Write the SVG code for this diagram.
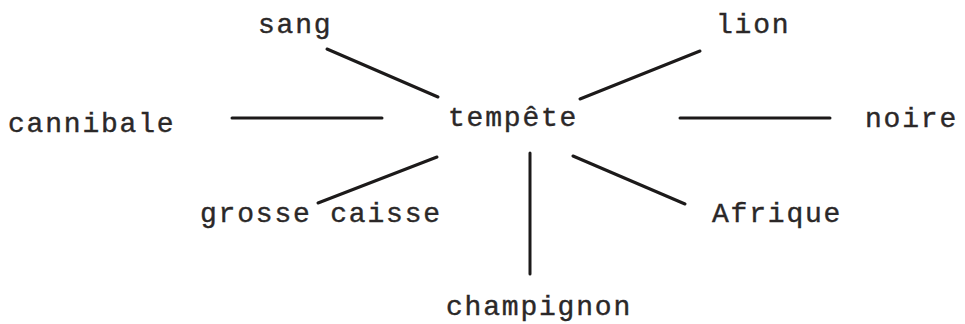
<svg xmlns="http://www.w3.org/2000/svg" width="965" height="324" viewBox="0 0 965 324">
  <style>
    .w { font-family: "Liberation Mono", "DejaVu Sans Mono", monospace; font-size: 28px; letter-spacing: 1.8px; fill: #2b2828; stroke: #2b2828; stroke-width: 0.4px; }
    .c { stroke: #1c1a1a; stroke-width: 3; stroke-linecap: round; fill: none; }
  </style>
  <rect width="965" height="324" fill="#ffffff"/>
  <g id="connectors">
    <line class="c" x1="327" y1="49" x2="438" y2="97"/>
    <line class="c" x1="232" y1="118" x2="382" y2="118"/>
    <line class="c" x1="580" y1="99" x2="700" y2="51"/>
    <line class="c" x1="680" y1="118" x2="830" y2="118"/>
    <line class="c" x1="318" y1="203" x2="437" y2="157"/>
    <line class="c" x1="530" y1="153" x2="530" y2="274"/>
    <line class="c" x1="573" y1="156" x2="685" y2="204"/>
  </g>
  <g id="tempete"><text class="w" x="448" y="126">tempête</text></g>
  <g id="sang"><text class="w" x="258" y="33">sang</text></g>
  <g id="lion"><text class="w" x="716" y="33">lion</text></g>
  <g id="cannibale"><text class="w" x="8" y="132">cannibale</text></g>
  <g id="noire"><text class="w" x="865" y="127">noire</text></g>
  <g id="grosse-caisse"><text class="w" x="200" y="222">grosse caisse</text></g>
  <g id="afrique"><text class="w" x="712" y="222">Afrique</text></g>
  <g id="champignon"><text class="w" x="446" y="315">champignon</text></g>
</svg>
